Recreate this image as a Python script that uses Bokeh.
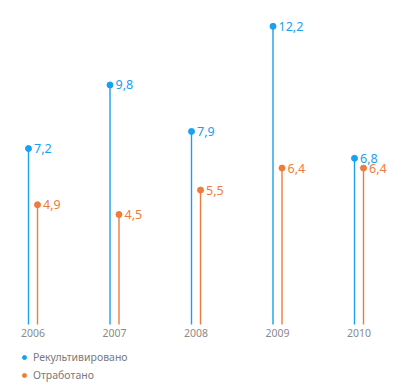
from bokeh.plotting import figure
from bokeh.models import ColumnDataSource, Legend, LegendItem, FixedTicker, Range1d
from bokeh.core.properties import value
from bokeh.embed import file_html
from bokeh.resources import INLINE

years = ["2006", "2007", "2008", "2009", "2010"]
reclaimed = [7.2, 9.8, 7.9, 12.2, 6.8]
mined = [4.9, 4.5, 5.5, 6.4, 6.4]
labels_reclaimed = ["7,2", "9,8", "7,9", "12,2", "6,8"]
labels_mined = ["4,9", "4,5", "5,5", "6,4", "6,4"]

BLUE = "#1aa0f0"
ORANGE = "#f07b3c"
FONT = "Noto Sans"

W, H = 405, 388
xpos = list(range(len(years)))
off = 4.5 / 81.5
src_b = ColumnDataSource(dict(x=[i - off for i in xpos], y=reclaimed, lab=labels_reclaimed, y0=[0]*5))
src_o = ColumnDataSource(dict(x=[i + off for i in xpos], y=mined, lab=labels_mined, y0=[0]*5))

p = figure(width=W, height=H, output_backend="svg", toolbar_location=None,
           min_border=0, outline_line_color=None,
           x_range=Range1d((0 - 32.5) / 81.5, (W - 32.5) / 81.5),
           y_range=Range1d(-(H - 324) / 24.44, 324 / 24.44))
p.grid.visible = False
p.yaxis.visible = False
p.background_fill_color = None
p.border_fill_color = None

ax = p.xaxis[0]
ax.fixed_location = 0
ax.ticker = FixedTicker(ticks=xpos)
ax.major_label_overrides = {i: y for i, y in enumerate(years)}
ax.axis_line_color = None
ax.major_tick_line_color = None
ax.minor_tick_line_color = None
ax.major_label_standoff = -2
ax.major_label_text_color = "#8a8a8a"
ax.major_label_text_font = FONT
ax.major_label_text_font_size = "10.5px"

p.segment(x0="x", y0="y0", x1="x", y1="y", source=src_b, line_color=BLUE, line_width=1.4)
db = p.scatter(x="x", y="y", source=src_b, size=6, color=BLUE)
p.text(x="x", y="y", text="lab", source=src_b, x_offset=5.5, text_baseline="middle",
       text_color=BLUE, text_font=value(FONT), text_font_size="12.5px")

p.segment(x0="x", y0="y0", x1="x", y1="y", source=src_o, line_color=ORANGE, line_width=1.4)
do = p.scatter(x="x", y="y", source=src_o, size=6, color=ORANGE)
p.text(x="x", y="y", text="lab", source=src_o, x_offset=5.5, text_baseline="middle",
       text_color=ORANGE, text_font=value(FONT), text_font_size="12.5px")

legend = Legend(items=[LegendItem(label="Рекультивировано", renderers=[db]),
                       LegendItem(label="Отработано", renderers=[do])],
                location=(19, 4), orientation="vertical",
                background_fill_alpha=0, border_line_color=None,
                padding=0, margin=0, spacing=-3,
                glyph_width=10, glyph_height=18, label_height=18, label_standoff=4,
                label_text_font=FONT, label_text_font_size="10.5px", label_text_color="#7a7a7a")
p.add_layout(legend)

open("out.html", "w").write(file_html(p, INLINE))
